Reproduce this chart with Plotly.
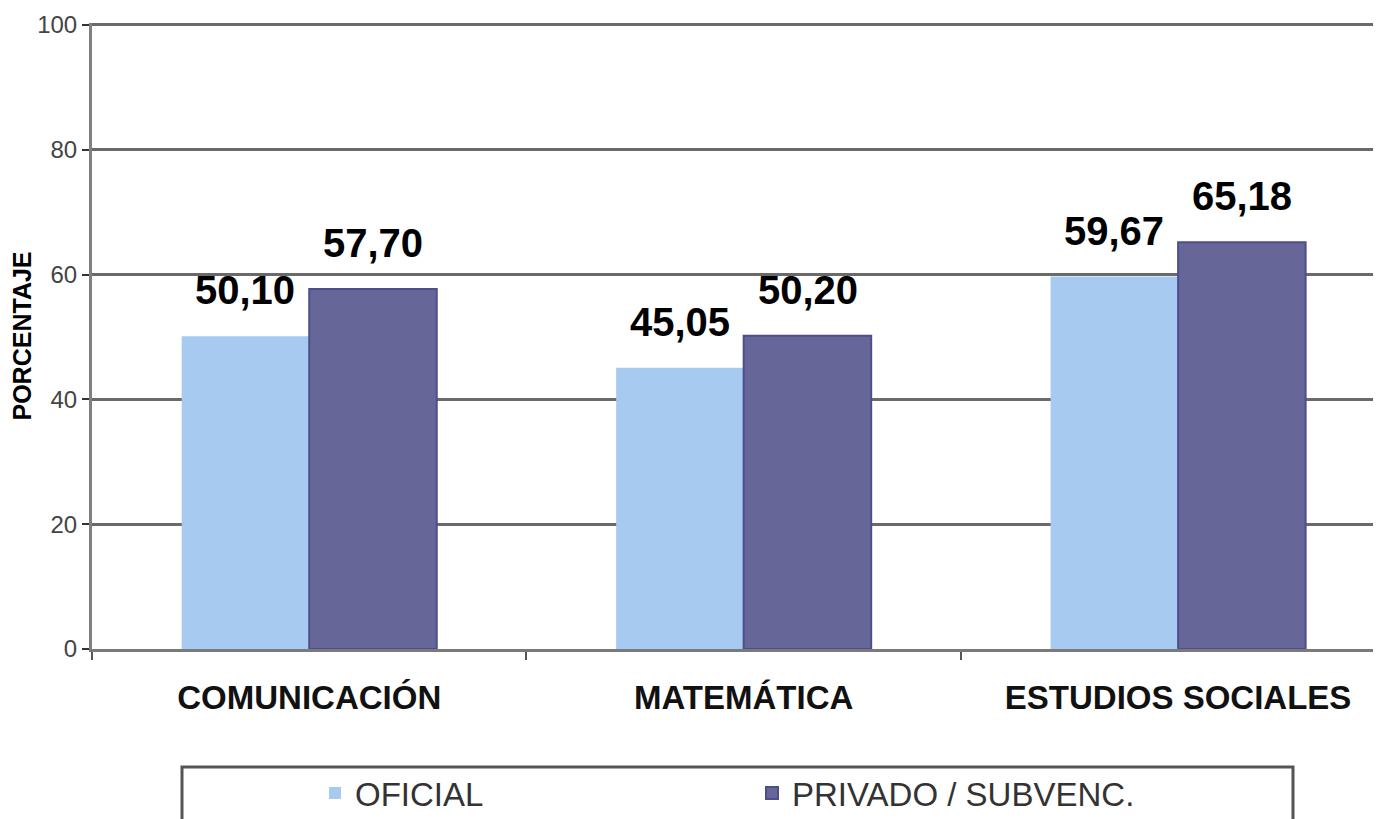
import plotly.graph_objects as go

categories = ["COMUNICACIÓN", "MATEMÁTICA", "ESTUDIOS SOCIALES"]
series_names = ["OFICIAL", "PRIVADO / SUBVENC."]
oficial = [50.10, 45.05, 59.67]
privado = [57.70, 50.20, 65.18]
y_tick_values = [0, 20, 40, 60, 80, 100]

colors = ["#A6CAF0", "#666699"]
edge_colors = ["#A6CAF0", "#4E4E8E"]
FONT = "Arial, 'Liberation Sans', sans-serif"

# the page body adds an 8px margin, so the figure is 8px smaller than the window
W, H = 1373, 811

fig = go.Figure()
for name, vals, col, edge in zip(series_names, [oficial, privado], colors, edge_colors):
    fig.add_trace(go.Bar(
        x=categories, y=vals, name=name,
        marker=dict(color=col, line=dict(color=edge, width=2 if edge != col else 0)),
    ))

def fmt(v):
    return f"{v:.2f}".replace(".", ",")

annotations = []
for si, vals in enumerate([oficial, privado]):
    shift = -64 if si == 0 else 64
    for c, v in zip(categories, vals):
        annotations.append(dict(
            x=c, y=v, xref="x", yref="y", text=fmt(v), showarrow=False,
            xshift=shift, yanchor="bottom", yshift=22,
            font=dict(family=FONT, size=40, color="#000000", weight="bold"),
        ))

shapes = [dict(type="rect", xref="paper", yref="paper",
               x0=(182 - 92) / 1289, x1=(1293 - 92) / 1289,
               y0=(649 - 830) / 626, y1=(649 - 767) / 626,
               line=dict(color="#555555", width=3),
               fillcolor="rgba(0,0,0,0)", layer="above")]

fig.update_layout(
    width=W, height=H,
    margin=dict(l=84, r=0, t=15, b=170, autoexpand=False),
    plot_bgcolor="white", paper_bgcolor="white",
    barmode="group", bargap=0.413, bargroupgap=0,
    font=dict(family=FONT),
    showlegend=True,
    legend=dict(orientation="h", xref="container", yref="container",
                x=307 / W, xanchor="left",
                y=(H - 757) / H, yanchor="top",
                font=dict(family=FONT, size=33, color="#333333"),
                entrywidth=392, bgcolor="rgba(0,0,0,0)", traceorder="normal"),
    annotations=annotations,
    shapes=shapes,
    xaxis=dict(
        type="category", range=[-0.5, 2.467], automargin=False,
        showline=True, linecolor="#7a7a7a", linewidth=3,
        ticks="outside", tickson="boundaries", ticklen=8, tickwidth=2, tickcolor="#555555",
        ticklabelstandoff=17,
        tickfont=dict(family=FONT, size=33, color="#111111", weight="bold"),
        showgrid=False, zeroline=False,
    ),
    yaxis=dict(
        range=[0, 100.3], tickvals=y_tick_values, automargin=False,
        showgrid=True, gridcolor="#6a6a6a", gridwidth=3,
        showline=True, linecolor="#808080", linewidth=3,
        ticks="outside", ticklen=7, tickwidth=2, tickcolor="#333333",
        tickfont=dict(family=FONT, size=24, color="#444444"),
        zeroline=False,
        title=dict(text="PORCENTAJE", standoff=2,
                   font=dict(family=FONT, size=25, color="#000000", weight="bold")),
    ),
)

fig.write_html("out.html")
